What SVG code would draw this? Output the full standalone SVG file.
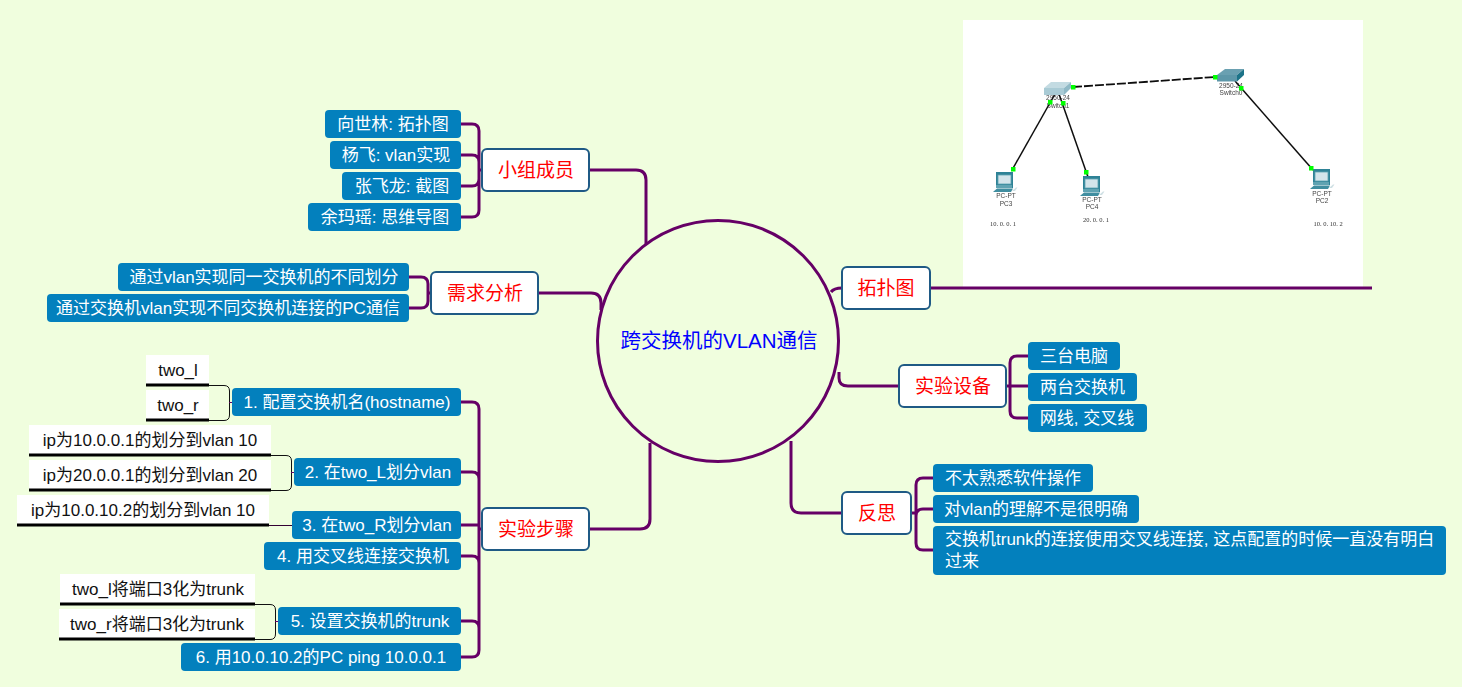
<svg xmlns="http://www.w3.org/2000/svg" width="1462" height="687" viewBox="0 0 1462 687">
<style>
text{font-family:"Liberation Sans","Noto Sans CJK SC",sans-serif;text-anchor:middle}
.b rect{fill:#0380bd}
.b text{fill:#fff;font-size:17px}
.m rect{fill:#fff;stroke:#1f5a85;stroke-width:2}
.m text{fill:#f00;font-size:19px}
.w rect{fill:#fff}
.w line{stroke:#000;stroke-width:3}
.w text{fill:#111;font-size:17px}
.t{fill:none;stroke:#660066;stroke-width:3}
.k{fill:none;stroke:#111;stroke-width:1}
.p{fill:none;stroke:#660066;stroke-width:1}
.n{font-size:6.500px;fill:#444}
.i{font-size:6.500px;fill:#333;font-family:"Liberation Serif",serif}
.g{fill:#0f0}
.l{stroke:#111;stroke-width:1.500;fill:none}
</style>
<defs>
<filter id="soft" x="-5%" y="-5%" width="110%" height="110%"><feGaussianBlur stdDeviation="0.300"/></filter>
<g id="pc">
<path d="M3 -1 H20 V15 H3 Z" fill="#2f8296"/>
<rect x="5" y="2" width="13" height="9" fill="#d3e4ea" stroke="#5ea3b2" stroke-width="0.800"/>
<path d="M3 12 H19 V15 H3 Z" fill="#5ea3b2"/>
<path d="M0 19 L4 15.500 H20 L18 19 Z" fill="#3f8ea0"/>
<path d="M19 18 L23 14.500 H24.500 L22 18 Z" fill="#cfe0e4"/>
</g>
</defs>
<rect width="1462" height="687" fill="#f0fede"/>

<g id="topology">
<rect x="963" y="20" width="400" height="267" fill="#fff"/>
<g filter="url(#soft)">
<text class="n" x="1058" y="100">2950-24</text>
<text class="n" x="1058" y="108">Switch1</text>
<text class="n" x="1231" y="88">2950-24</text>
<text class="n" x="1231" y="95">Switch0</text>
<line class="l" x1="1055" y1="94" x2="1012" y2="170"/>
<line class="l" x1="1059" y1="94" x2="1088" y2="177"/>
<line class="l" x1="1235" y1="81" x2="1313" y2="170"/>
<line x1="1073" y1="87" x2="1215" y2="77" stroke="#111" stroke-width="1.800" stroke-dasharray="9 2"/>
<path d="M1044 88 L1051 82 H1071 L1064 88 Z" fill="#c3dbe2"/>
<rect x="1044" y="88" width="20" height="7" fill="#a9cbd5"/>
<path d="M1064 88 L1071 82 V88 L1064 95 Z" fill="#8fb9c6"/>
<path d="M1217 75 L1225 69 H1244 L1237 75 Z" fill="#6ba0b1"/>
<rect x="1217" y="75" width="20" height="6.500" fill="#5d97a9"/>
<path d="M1237 75 L1244 69 V75 L1237 81.500 Z" fill="#1f7388"/>
<use href="#pc" x="993" y="173"/>
<use href="#pc" x="1080" y="177"/>
<use href="#pc" x="1310" y="170"/>
<text class="n" x="1006" y="198">PC-PT</text>
<text class="n" x="1006" y="206">PC3</text>
<text class="n" x="1092" y="202">PC-PT</text>
<text class="n" x="1092" y="209">PC4</text>
<text class="n" x="1322" y="196">PC-PT</text>
<text class="n" x="1322" y="203">PC2</text>
<text class="i" x="1003" y="226">10. 0. 0. 1</text>
<text class="i" x="1096" y="222">20. 0. 0. 1</text>
<text class="i" x="1328" y="226">10. 0. 10. 2</text>
</g>
<g class="g">
<rect x="1071" y="85" width="4.500" height="4.500"/><rect x="1213" y="75" width="4.500" height="4.500"/>
<rect x="1048" y="100" width="4.500" height="4.500"/><rect x="1061" y="101" width="4.500" height="4.500"/>
<rect x="1011" y="167" width="4.500" height="4.500"/><rect x="1084" y="170" width="4.500" height="4.500"/>
<rect x="1239" y="86" width="4.500" height="4.500"/><rect x="1309" y="166" width="4.500" height="4.500"/>
</g>
</g>

<g id="connectors">
<path class="t" d="M589 170H636Q646 170 646 180V244"/>
<path class="t" d="M538 293H591Q601 293 601 303V310"/>
<path class="t" d="M589 529H640Q650 529 650 519V443"/>
<path class="t" d="M839 372V378Q839 386 848 386H899"/>
<path class="t" d="M831 292Q834 288 842 288"/>
<path class="t" d="M930 288H1372"/>
<path class="t" d="M791 441V503Q791 513 801 513H842"/>
<path class="t" d="M461 124H472Q479 124 479 131V210Q479 217 472 217H461M461 155H472Q479 155 479 162M461 186H472Q479 186 479 179M479 170H482"/>
<path class="t" d="M409 277H421Q428 277 428 284V301Q428 308 421 308H409M428 293H431"/>
<path class="t" d="M461 402H472Q479 402 479 409V650Q479 657 472 657H461M461 472H472Q479 472 479 479M461 525H479M461 556H472Q479 556 479 563M461 621H472Q479 621 479 628M479 529H482"/>
<path class="t" d="M1028 356H1017Q1010 356 1010 363V411Q1010 418 1017 418H1028M1006 386H1028"/>
<path class="t" d="M933 478H923Q916 478 916 485V543Q916 550 923 550H933M911 513H916M916 516Q916 509 923 509H933"/>
<path class="k" d="M209 385.500H224Q229.500 385.500 229.500 391V415Q229.500 420.500 224 420.500H209"/>
<path class="p" d="M229 402.500H232"/>
<path class="k" d="M271 455.500H286Q291.500 455.500 291.500 461V485Q291.500 490.500 286 490.500H271"/>
<path class="p" d="M291 472.500H294"/>
<path class="p" d="M269 525.500H292" style="stroke:#330033"/>
<path class="k" d="M255 604.500H270Q275.500 604.500 275.500 610V634Q275.500 639.500 270 639.500H255"/>
<path class="p" d="M275 621.500H278"/>
</g>

<g id="center">
<circle cx="718" cy="341" r="120.500" fill="#f0fede" stroke="#660066" stroke-width="3"/>
<text x="719" y="348" font-size="20.500" fill="#00f">跨交换机的VLAN通信</text>
</g>

<g id="n-members" class="m"><rect x="482" y="149" width="107" height="42" rx="5"/><text x="536" y="177">小组成员</text></g>
<g id="n-m1" class="b"><rect x="325" y="110" width="136" height="28" rx="4"/><text x="393" y="130">向世林: 拓扑图</text></g>
<g id="n-m2" class="b"><rect x="330" y="141" width="131" height="28" rx="4"/><text x="396" y="161">杨飞: vlan实现</text></g>
<g id="n-m3" class="b"><rect x="342" y="172" width="119" height="28" rx="4"/><text x="402" y="192">张飞龙: 截图</text></g>
<g id="n-m4" class="b"><rect x="308" y="203" width="153" height="28" rx="4"/><text x="385" y="223">余玛瑶: 思维导图</text></g>

<g id="n-req" class="m"><rect x="431" y="272" width="107" height="42" rx="5"/><text x="485" y="300">需求分析</text></g>
<g id="n-r1" class="b"><rect x="118" y="263" width="291" height="28" rx="4"/><text x="264" y="283">通过vlan实现同一交换机的不同划分</text></g>
<g id="n-r2" class="b"><rect x="47" y="294" width="362" height="28" rx="4"/><text x="228" y="314">通过交换机vlan实现不同交换机连接的PC通信</text></g>

<g id="n-steps" class="m"><rect x="482" y="508" width="107" height="42" rx="5"/><text x="536" y="536">实验步骤</text></g>
<g id="n-s1" class="b"><rect x="232" y="388" width="229" height="28" rx="4"/><text x="347" y="408">1. 配置交换机名(hostname)</text></g>
<g id="n-s2" class="b"><rect x="294" y="458" width="167" height="28" rx="4"/><text x="378" y="478">2. 在two_L划分vlan</text></g>
<g id="n-s3" class="b"><rect x="292" y="511" width="169" height="28" rx="4"/><text x="377" y="531">3. 在two_R划分vlan</text></g>
<g id="n-s4" class="b"><rect x="264" y="542" width="197" height="28" rx="4"/><text x="363" y="562">4. 用交叉线连接交换机</text></g>
<g id="n-s5" class="b"><rect x="278" y="607" width="183" height="28" rx="4"/><text x="370" y="627">5. 设置交换机的trunk</text></g>
<g id="n-s6" class="b"><rect x="181" y="643" width="280" height="28" rx="4"/><text x="321" y="663">6. 用10.0.10.2的PC ping 10.0.0.1</text></g>

<g id="n-w1" class="w"><rect x="146" y="355" width="63" height="30"/><line x1="146" y1="385" x2="209" y2="385"/><text x="178" y="376">two_l</text></g>
<g id="n-w2" class="w"><rect x="146" y="390" width="63" height="30"/><line x1="146" y1="420" x2="209" y2="420"/><text x="178" y="411">two_r</text></g>
<g id="n-w3" class="w"><rect x="29" y="425" width="242" height="30"/><line x1="29" y1="455" x2="271" y2="455"/><text x="150" y="446">ip为10.0.0.1的划分到vlan 10</text></g>
<g id="n-w4" class="w"><rect x="29" y="460" width="242" height="30"/><line x1="29" y1="490" x2="271" y2="490"/><text x="150" y="481">ip为20.0.0.1的划分到vlan 20</text></g>
<g id="n-w5" class="w"><rect x="17" y="495" width="252" height="30"/><line x1="17" y1="525" x2="269" y2="525"/><text x="143" y="516">ip为10.0.10.2的划分到vlan 10</text></g>
<g id="n-w6" class="w"><rect x="60" y="574" width="195" height="30"/><line x1="60" y1="604" x2="255" y2="604"/><text x="158" y="595">two_l将端口3化为trunk</text></g>
<g id="n-w7" class="w"><rect x="59" y="609" width="196" height="30"/><line x1="59" y1="639" x2="255" y2="639"/><text x="157" y="630">two_r将端口3化为trunk</text></g>

<g id="n-topo" class="m"><rect x="842" y="267" width="88" height="42" rx="5"/><text x="886" y="295">拓扑图</text></g>

<g id="n-dev" class="m"><rect x="899" y="365" width="107" height="42" rx="5"/><text x="953" y="393">实验设备</text></g>
<g id="n-d1" class="b"><rect x="1028" y="342" width="92" height="28" rx="4"/><text x="1074" y="362">三台电脑</text></g>
<g id="n-d2" class="b"><rect x="1028" y="373" width="109" height="28" rx="4"/><text x="1082.500" y="393">两台交换机</text></g>
<g id="n-d3" class="b"><rect x="1028" y="404" width="119" height="28" rx="4"/><text x="1087" y="424">网线, 交叉线</text></g>

<g id="n-ref" class="m"><rect x="842" y="492" width="69" height="42" rx="5"/><text x="877" y="520">反思</text></g>
<g id="n-f1" class="b"><rect x="933" y="464" width="160" height="28" rx="4"/><text x="1013" y="484">不太熟悉软件操作</text></g>
<g id="n-f2" class="b"><rect x="933" y="495" width="206" height="28" rx="4"/><text x="1036" y="515">对vlan的理解不是很明确</text></g>
<g id="n-f3" class="b"><rect x="933" y="526" width="513" height="49" rx="4"/><text x="945" y="545" style="text-anchor:start">交换机trunk的连接使用交叉线连接, 这点配置的时候一直没有明白</text><text x="945" y="567" style="text-anchor:start">过来</text></g>
</svg>
